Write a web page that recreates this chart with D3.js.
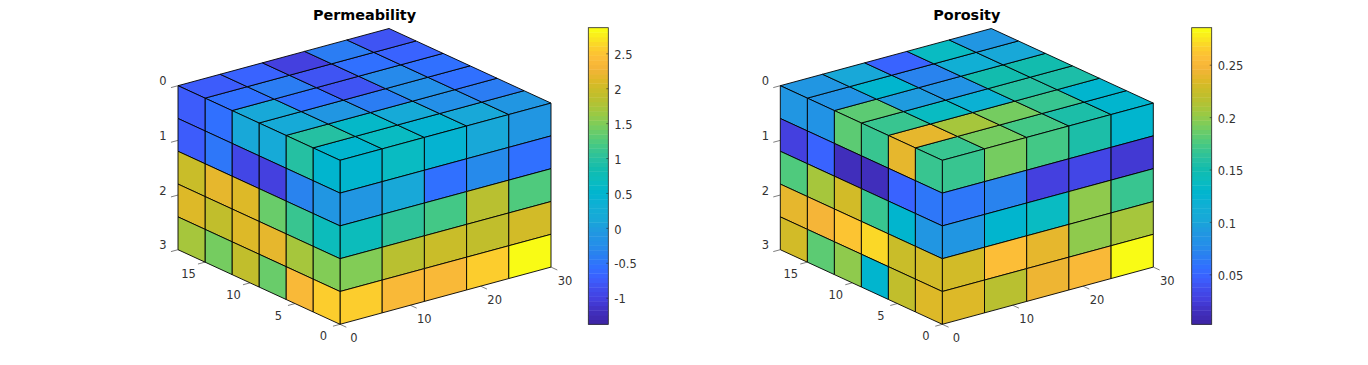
<!DOCTYPE html>
<html>
<head>
<meta charset="utf-8">
<script src="https://cdn.jsdelivr.net/npm/d3@7"></script>
<style>
  html, body { margin: 0; padding: 0; background: #fff; }
  svg { display: block; }
  text { font-family: "DejaVu Sans", sans-serif; fill: #333; }
</style>
</head>
<body>
<div id="chart"></div>
<script>
// Constants for the figure
const WIDTH = 1368;
const HEIGHT = 365;
const TEXT_SIZE = 11.5;
const FRONT_Y = 324.3;
const BAR_TOP = 27.7;
const BAR_BOTTOM = 324.3;
const BAR_WIDTH = 20;
const COLOR_LEVELS = 64;

// grid edges along each axis
const xEdges = [0, 6, 12, 18, 24, 30];
const yEdges = [0, 3, 6, 9, 12, 15, 18];
const zEdges = [0, 0.6, 1.2, 1.8, 2.4, 3];

// tick labels
const xTicks = [0, 10, 20, 30];
const yTicks = [0, 5, 10, 15];
const zTicks = [0, 1, 2, 3];
const permBarTicks = [-1, -0.5, 0, 0.5, 1, 1.5, 2, 2.5];
const poroBarTicks = [0.05, 0.1, 0.15, 0.2, 0.25];

// colormap
const colorStops = [0, 0.04, 0.08, 0.12, 0.15, 0.19, 0.23, 0.27, 0.31, 0.35, 0.4, 0.44, 0.48, 0.52, 0.56, 0.6, 0.64, 0.68, 0.72, 0.76, 0.8, 0.83, 0.87, 0.9, 0.93, 1];
const colorValues = ["#3e26a8", "#4030c0", "#4440e0", "#4050f0", "#3c60ff", "#3070ff", "#2a80f0", "#2490e8", "#2098e0", "#18a8d8", "#10b0d4", "#00b4d0", "#0abcc0", "#10bcb0", "#28c0a0", "#40c888", "#60cc70", "#80cc58", "#a0c840", "#b8c030", "#ccbc28", "#e0b828", "#f4b438", "#fcbc38", "#fcc830", "#f9fb15"];

// Permeability: top face rows go back along y, columns along x
const permTop = [
  [0.49, 0.66, 0.46, 0.11, -0.06],
  [1.0, 0.55, 0.15, -0.2, -0.4],
  [0.15, -0.1, -0.42, -0.2, -0.55],
  [0.12, -0.55, -0.8, -0.28, -0.55],
  [-0.55, -0.4, -0.8, -0.55, -0.7],
  [-0.72, -0.68, -1.0, -0.42, -0.8],
];
// layers 2 to 5 of the y=0 face
const permFront = [
  [-0.1, 0.12, -0.55, -0.3, -0.55],
  [0.7, 1.05, 1.2, 1.85, 1.25],
  [1.5, 1.85, 2.0, 1.9, 2.05],
  [2.58, 2.38, 2.35, 2.55, 2.87],
];
// layers 2 to 5 of the x=0 face
const permSide = [
  [-0.1, -0.35, -1.0, -0.95, -0.5, -0.72],
  [0.7, 1.1, 1.35, 2.1, 2.15, 2.0],
  [1.5, 1.7, 2.15, 2.1, 1.9, 2.1],
  [2.58, 2.38, 1.35, 1.9, 1.45, 1.7],
];

// Porosity
const poroTop = [
  [0.17, 0.19, 0.172, 0.155, 0.127],
  [0.237, 0.206, 0.19, 0.17, 0.13],
  [0.168, 0.138, 0.12, 0.16, 0.155],
  [0.183, 0.095, 0.085, 0.15, 0.15],
  [0.085, 0.13, 0.072, 0.115, 0.103],
  [0.09, 0.102, 0.048, 0.135, 0.09],
];
const poroFront = [
  [0.06, 0.07, 0.028, 0.03, 0.02],
  [0.088, 0.127, 0.138, 0.2, 0.168],
  [0.229, 0.255, 0.237, 0.2, 0.206],
  [0.234, 0.217, 0.244, 0.25, 0.285],
];
const poroSide = [
  [0.06, 0.047, 0.012, 0.012, 0.047, 0.028],
  [0.088, 0.127, 0.168, 0.229, 0.208, 0.178],
  [0.229, 0.226, 0.268, 0.26, 0.246, 0.238],
  [0.234, 0.222, 0.13, 0.2, 0.183, 0.229],
];

setup();

function setup() {
  const svg = d3
    .select("#chart")
    .append("svg")
    .attr("width", WIDTH)
    .attr("height", HEIGHT);

  drawPanel(svg, {
    title: "Permeability",
    frontX: 340,
    barX: 588.3,
    domain: [-1.381, 2.867],
    top: permTop,
    front: permFront,
    side: permSide,
    barTicks: permBarTicks,
  });
  drawPanel(svg, {
    title: "Porosity",
    frontX: 942.3,
    barX: 1191.7,
    domain: [0.0023, 0.2853],
    top: poroTop,
    front: poroFront,
    side: poroSide,
    barTicks: poroBarTicks,
  });
}

/**
 * Draw one 3D block with its axes and its colorbar
 */
function drawPanel(svg, opts) {
  const g = svg.append("g");

  // screen offset scales for the oblique view
  const xToPx = d3.scaleLinear().domain([0, 30]).range([opts.frontX, opts.frontX + 211]);
  const xToPy = d3.scaleLinear().domain([0, 30]).range([0, -57.2]);
  const yToPx = d3.scaleLinear().domain([0, 18]).range([0, -162]);
  const yToPy = d3.scaleLinear().domain([0, 18]).range([0, -74.6]);
  const zToPy = d3.scaleLinear().domain([0, 3]).range([FRONT_Y - 164, FRONT_Y]);

  const project = (x, y, z) => [
    xToPx(x) + yToPx(y),
    zToPy(z) + xToPy(x) + yToPy(y),
  ];

  // map value to a colormap level, like a 64 color figure does
  const toT = d3.scaleLinear().domain(opts.domain).range([0, 1]).clamp(true);
  const ramp = d3.scaleLinear().domain(colorStops).range(colorValues);
  const levelColor = (level) => ramp(level / (COLOR_LEVELS - 1));
  const color = (v) => levelColor(Math.min(COLOR_LEVELS - 1, Math.floor(toT(v) * COLOR_LEVELS)));

  // collect visible faces from the three data arrays
  const faces = [];
  opts.top.forEach((row, j) =>
    row.forEach((v, i) => {
      faces.push({
        value: v,
        corners: [
          project(xEdges[i], yEdges[j], 0),
          project(xEdges[i + 1], yEdges[j], 0),
          project(xEdges[i + 1], yEdges[j + 1], 0),
          project(xEdges[i], yEdges[j + 1], 0),
        ],
      });
    })
  );
  // first layer of the y=0 face has the top row colors
  [opts.top[0]].concat(opts.front).forEach((row, k) =>
    row.forEach((v, i) => {
      faces.push({
        value: v,
        corners: [
          project(xEdges[i], 0, zEdges[k]),
          project(xEdges[i + 1], 0, zEdges[k]),
          project(xEdges[i + 1], 0, zEdges[k + 1]),
          project(xEdges[i], 0, zEdges[k + 1]),
        ],
      });
    })
  );
  // first layer of the x=0 face has the top column colors
  [opts.top.map((row) => row[0])].concat(opts.side).forEach((row, k) =>
    row.forEach((v, j) => {
      faces.push({
        value: v,
        corners: [
          project(0, yEdges[j], zEdges[k]),
          project(0, yEdges[j + 1], zEdges[k]),
          project(0, yEdges[j + 1], zEdges[k + 1]),
          project(0, yEdges[j], zEdges[k + 1]),
        ],
      });
    })
  );

  const facePath = d3.line();
  g.append("g")
    .attr("class", "faces")
    .selectAll("path")
    .data(faces)
    .join("path")
    .attr("d", (d) => facePath(d.corners) + "Z")
    .attr("fill", (d) => color(d.value))
    .attr("stroke", "#000")
    .attr("stroke-width", 0.9)
    .attr("stroke-linejoin", "round");

  // axes ticks and labels
  const axisG = g.append("g").attr("class", "axes");
  const addTick = (from, to, label, lx, ly) => {
    axisG.append("line")
      .attr("x1", from[0]).attr("y1", from[1])
      .attr("x2", to[0]).attr("y2", to[1])
      .attr("stroke", "#262626")
      .attr("stroke-width", 0.6);
    axisG.append("text")
      .attr("x", from[0] + lx)
      .attr("y", from[1] + ly)
      .attr("text-anchor", "middle")
      .attr("dominant-baseline", "central")
      .style("font-size", TEXT_SIZE + "px")
      .text(label);
  };

  xTicks.forEach((t) => addTick(project(t, 0, 3), project(t, -0.7, 3), t, 14, 13.5));
  yTicks.forEach((t) => addTick(project(0, t, 3), project(-1, t, 3), t, -16.5, 12));
  zTicks.forEach((t) => addTick(project(0, 18, t), project(-1, 18, t), t, -15, -4.5));

  g.append("text")
    .attr("x", opts.frontX + 24.5)
    .attr("y", 15)
    .attr("text-anchor", "middle")
    .attr("dominant-baseline", "central")
    .style("font-size", "14.4px")
    .style("font-weight", "bold")
    .style("fill", "#000")
    .text(opts.title);

  // colorbar
  const barScale = d3.scaleLinear().domain(opts.domain).range([BAR_BOTTOM, BAR_TOP]);
  const levels = d3.range(COLOR_LEVELS);
  const levelY = d3.scaleLinear().domain([0, COLOR_LEVELS]).range([BAR_BOTTOM, BAR_TOP]);

  g.append("g")
    .selectAll("rect")
    .data(levels)
    .join("rect")
    .attr("x", opts.barX)
    .attr("y", (d) => levelY(d + 1))
    .attr("width", BAR_WIDTH)
    .attr("height", (d) => levelY(d) - levelY(d + 1) + 0.4)
    .attr("fill", (d) => levelColor(d));

  g.append("rect")
    .attr("x", opts.barX)
    .attr("y", BAR_TOP)
    .attr("width", BAR_WIDTH)
    .attr("height", BAR_BOTTOM - BAR_TOP)
    .attr("fill", "none")
    .attr("stroke", "#262626")
    .attr("stroke-width", 0.8);

  const barAxis = d3.axisRight(barScale)
    .tickValues(opts.barTicks)
    .tickSize(-2)
    .tickPadding(6)
    .tickFormat((d) => d);

  g.append("g")
    .attr("transform", `translate(${opts.barX + BAR_WIDTH}, 0)`)
    .call(barAxis)
    .call((a) => a.select(".domain").remove())
    .call((a) => a.selectAll("line").attr("stroke", "#262626").attr("stroke-width", 0.6))
    .call((a) => a.selectAll("text").style("font-size", TEXT_SIZE + "px").attr("dy", "0.45em"));
}
</script>
</body>
</html>
